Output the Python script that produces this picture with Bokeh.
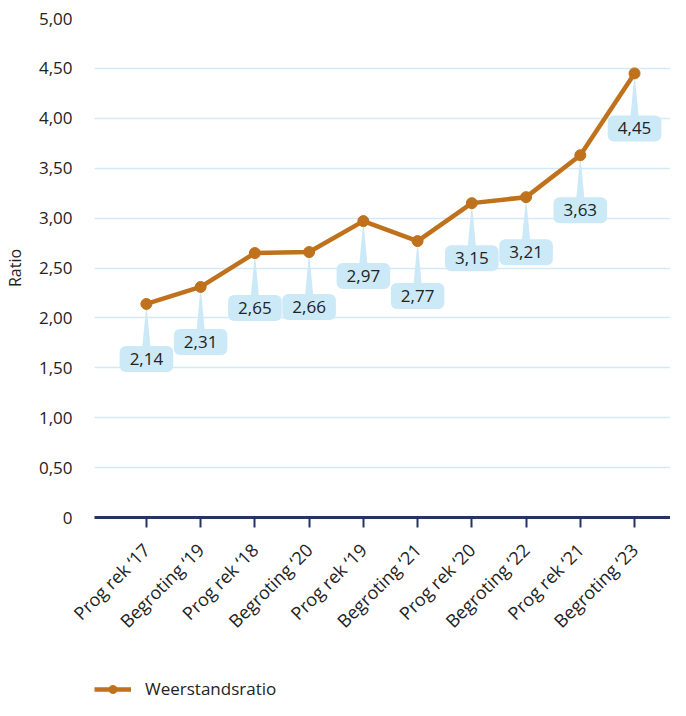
import math
from bokeh.plotting import figure
from bokeh.layouts import column
from bokeh.models import (ColumnDataSource, FixedTicker, Label, Legend, LegendItem, Range1d)
from bokeh.embed import file_html
from bokeh.resources import INLINE

categories = ["Prog rek \u201817", "Begroting \u201819", "Prog rek \u201818", "Begroting \u201820",
              "Prog rek \u201819", "Begroting \u201821", "Prog rek \u201820", "Begroting \u201822",
              "Prog rek \u201821", "Begroting \u201823"]
values = [2.14, 2.31, 2.65, 2.66, 2.97, 2.77, 3.15, 3.21, 3.63, 4.45]
value_labels = ["2,14", "2,31", "2,65", "2,66", "2,97", "2,77", "3,15", "3,21", "3,63", "4,45"]
y_ticks = [0, 0.5, 1.0, 1.5, 2.0, 2.5, 3.0, 3.5, 4.0, 4.5, 5.0]
y_tick_labels = ["0", "0,50", "1,00", "1,50", "2,00", "2,50", "3,00", "3,50", "4,00", "4,50", "5,00"]
series_name = "Weerstandsratio"

FONT = "Open Sans"
LINE_COLOR = "#bf711c"
GRID_COLOR = "#d3eaf6"
AXIS_COLOR = "#253461"
BOX_COLOR = "#cce9f8"
TEXT_COLOR = "#222222"

xs = list(range(len(categories)))

p = figure(width=670, height=670, output_backend="svg", toolbar_location=None,
           x_range=Range1d(-0.957, 9.663), y_range=Range1d(0, 5),
           min_border_left=93, min_border_right=0, min_border_top=18, min_border_bottom=153)
p.outline_line_color = None
p.background_fill_color = "white"

# y axis
p.yaxis.ticker = FixedTicker(ticks=y_ticks)
p.yaxis.major_label_overrides = {t: l for t, l in zip(y_ticks, y_tick_labels)}
p.yaxis.axis_line_color = None
p.yaxis.major_tick_line_color = None
p.yaxis.minor_tick_line_color = None
p.yaxis.major_label_standoff = 16
p.yaxis.major_label_text_font = FONT
p.yaxis.major_label_text_font_size = "17px"
p.yaxis.major_label_text_color = TEXT_COLOR
p.yaxis.axis_label = "Ratio"
p.yaxis.axis_label_text_font = FONT
p.yaxis.axis_label_text_font_size = "16px"
p.yaxis.axis_label_text_font_style = "normal"
p.yaxis.axis_label_text_color = TEXT_COLOR
p.yaxis.axis_label_standoff = 10

# x axis
p.xaxis.ticker = FixedTicker(ticks=xs)
p.xaxis.major_label_overrides = {i: c for i, c in zip(xs, categories)}
p.xaxis.axis_line_color = AXIS_COLOR
p.xaxis.axis_line_width = 3
p.xaxis.major_tick_line_color = AXIS_COLOR
p.xaxis.major_tick_line_width = 2
p.xaxis.major_tick_out = 10
p.xaxis.major_tick_in = 0
p.xaxis.minor_tick_line_color = None
p.xaxis.major_label_orientation = math.pi / 4
p.xaxis.major_label_standoff = 19
p.xaxis.major_label_text_font = FONT
p.xaxis.major_label_text_font_size = "18px"
p.xaxis.major_label_text_color = TEXT_COLOR

p.xgrid.grid_line_color = None
p.ygrid.ticker = FixedTicker(ticks=y_ticks)
p.ygrid.grid_line_color = GRID_COLOR
p.ygrid.grid_line_width = 1.5

# callout pointers (computed from data values)
ptr_xs = [[x - 0.075, x + 0.075, x] for x in xs]
ptr_ys = [[v - 0.43, v - 0.43, v] for v in values]
p.patches(ptr_xs, ptr_ys, fill_color=BOX_COLOR, line_color=None)

src = ColumnDataSource(dict(x=xs, y=values, lab=value_labels))
p.line("x", "y", source=src, line_color=LINE_COLOR, line_width=4.5)
p.scatter("x", "y", source=src, size=11, fill_color=LINE_COLOR, line_color=LINE_COLOR)

for x, v, lab in zip(xs, values, value_labels):
    p.add_layout(Label(x=x, y=v, text=lab, y_offset=-55,
                       text_align="center", text_baseline="middle",
                       text_font=FONT, text_font_size="17px", text_color=TEXT_COLOR,
                       background_fill_color=BOX_COLOR, border_radius=6, padding=(10, 7)))

# legend strip (series drawn out of view; only its legend entry shows)
lg = figure(width=670, height=30, output_backend="svg", toolbar_location=None,
            x_range=Range1d(-0.957, 9.663), y_range=Range1d(-20, -19),
            x_axis_type=None, y_axis_type=None, min_border=0)
lg.outline_line_color = None
lg_line = lg.line("x", "y", source=src, line_color=LINE_COLOR, line_width=4.5)
lg_dot = lg.scatter("x", "y", source=src, size=11, fill_color=LINE_COLOR, line_color=LINE_COLOR)
legend = Legend(items=[LegendItem(label=series_name, renderers=[lg_line, lg_dot])],
                location=(0, 0), orientation="horizontal",
                border_line_color=None, background_fill_alpha=0,
                padding=0, margin=0, glyph_width=37, glyph_height=20,
                label_text_font=FONT, label_text_font_size="17px",
                label_text_color=TEXT_COLOR, label_standoff=14)
lg.add_layout(legend)

open("out.html", "w").write(file_html(column(p, lg), INLINE))
